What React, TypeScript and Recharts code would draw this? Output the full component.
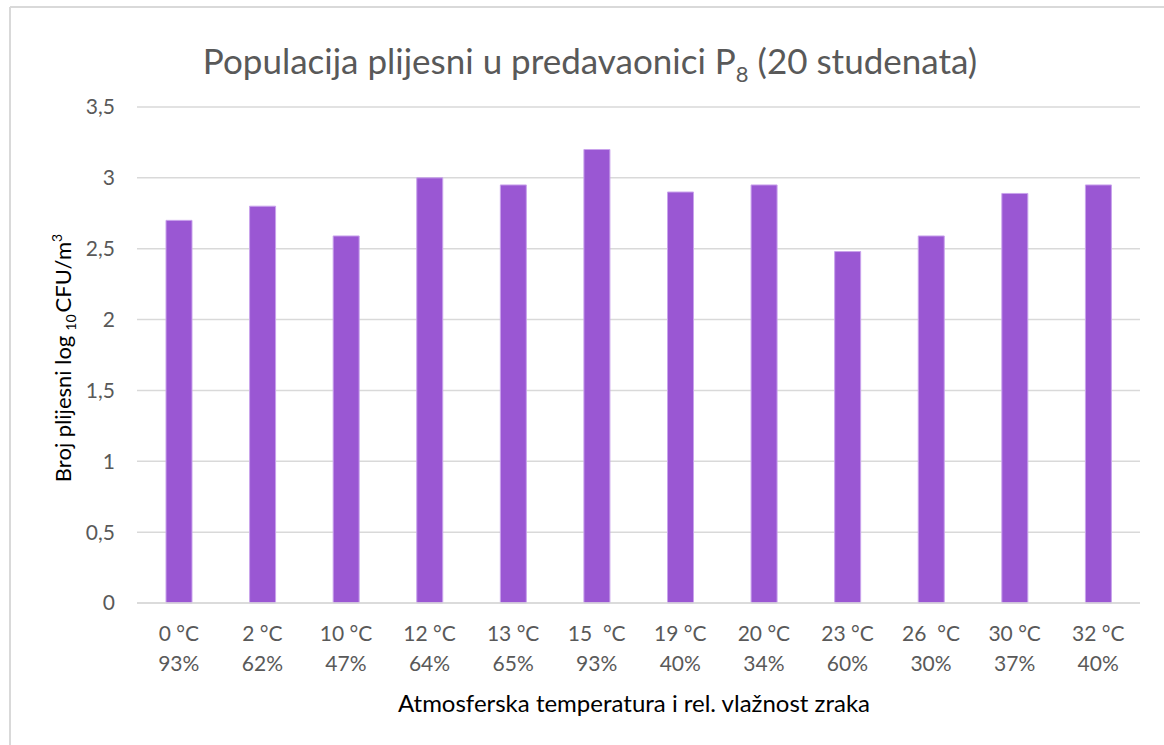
import React from "react";
import { BarChart, Bar, XAxis, YAxis, CartesianGrid, Customized } from "recharts";

const temperatures = ["0 °C", "2 °C", "10 °C", "12 °C", "13 °C", "15  °C", "19 °C", "20 °C", "23 °C", "26  °C", "30 °C", "32 °C"];
const humidity = ["93%", "62%", "47%", "64%", "65%", "93%", "40%", "34%", "60%", "30%", "37%", "40%"];
const moldLog = [2.7, 2.8, 2.59, 3.0, 2.95, 3.2, 2.9, 2.95, 2.48, 2.59, 2.89, 2.95];
const yTicks = [0, 0.5, 1, 1.5, 2, 2.5, 3, 3.5];

const data = temperatures.map((t, i) => ({ key: i, temp: t, hum: humidity[i], value: moldLog[i] }));

const FONT = "Lato, 'Open Sans', sans-serif";
const GREY = "#595959";

const XTick = (props: any) => {
  const { x, y, payload } = props;
  const d = data[payload.index] || data[payload.value];
  return (
    <g>
      <text x={x} y={y + 38} textAnchor="middle" fill={GREY} fontSize={21} fontFamily={FONT} style={{ whiteSpace: "pre" }}>
        {d ? d.temp : ""}
      </text>
      <text x={x} y={y + 68} textAnchor="middle" fill={GREY} fontSize={21} fontFamily={FONT}>
        {d ? d.hum : ""}
      </text>
    </g>
  );
};

const Decorations = () => (
  <g>
    <line x1={10} y1={7} x2={1164} y2={7} stroke="#d9d9d9" strokeWidth={2} />
    <line x1={10} y1={7} x2={10} y2={745} stroke="#d9d9d9" strokeWidth={2} />
    <text x={590} y={74} textAnchor="middle" fill={GREY} fontSize={35} fontFamily={FONT}>
      Populacija plijesni u predavaonici P
      <tspan fontSize={22} dy={8}>8</tspan>
      <tspan dy={-8}> (20 studenata)</tspan>
    </text>
    <text x={634} y={712} textAnchor="middle" fill="#000" fontSize={24} fontFamily={FONT}>
      Atmosferska temperatura i rel. vlažnost zraka
    </text>
    <text
      transform="translate(71, 358) rotate(-90)"
      x={0}
      y={0}
      textAnchor="middle"
      fill="#000"
      fontSize={22}
      fontFamily={FONT}
    >
      Broj plijesni log
      <tspan fontSize={14} dx={5} dy={5}>10</tspan>
      <tspan dx={2} dy={-5}>CFU/m</tspan>
      <tspan fontSize={14} dy={-9}>3</tspan>
    </text>
  </g>
);

export default function App() {
  return (
    <div style={{ position: "absolute", left: 0, top: 0, width: 1164, height: 745, background: "#fff" }}>
      <BarChart
        width={1164}
        height={745}
        data={data}
        margin={{ top: 107, right: 24, bottom: 0, left: 0 }}
        barCategoryGap="34%"
      >
        <CartesianGrid vertical={false} stroke="#d9d9d9" strokeWidth={1.5} />
        <XAxis
          dataKey="key"
          height={142}
          tickLine={false}
          tickSize={0}
          tickMargin={0}
          axisLine={{ stroke: "#d9d9d9", strokeWidth: 1.5 }}
          tick={<XTick />}
          interval={0}
        />
        <YAxis
          width={137}
          domain={[0, 3.5]}
          ticks={yTicks}
          axisLine={false}
          tickLine={false}
          tickSize={0}
          tickMargin={22}
          tick={{ fill: GREY, fontSize: 21, fontFamily: FONT }}
          tickFormatter={(v: number) => String(v).replace(".", ",")}
        />
        <Bar dataKey="value" fill="#9a57d3" stroke="#c9a3ec" strokeWidth={1} barSize={26} isAnimationActive={false} />
        <Customized component={Decorations} />
      </BarChart>
    </div>
  );
}
